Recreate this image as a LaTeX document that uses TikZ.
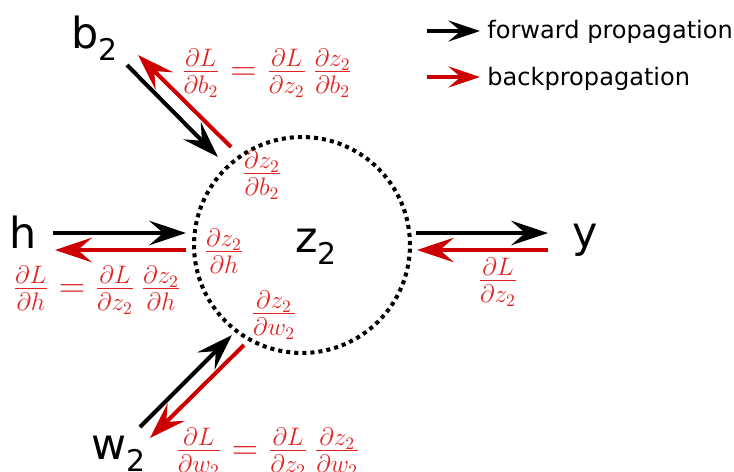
\documentclass[tikz,border=0pt]{standalone}
\usepackage{fontspec}
\usepackage{tikz}
\usepackage{xcolor}
\newfontfamily\lblfont{DejaVu Sans}
\definecolor{vizBwd}{HTML}{CC0000}
\definecolor{vizGrad}{HTML}{E02424}
\usetikzlibrary{arrows.meta}
\newcommand{\lblsub}[1]{{\fontsize{17}{17}\selectfont\raisebox{-7pt}{#1}}}

\tikzset{
  fwdarrow/.style={draw=black, line width=2.3pt, -{Stealth[length=21pt,width=14pt,inset=8pt]}},
  bwdarrow/.style={fwdarrow, draw=vizBwd},
  legarrow/.style={-{Stealth[length=18pt,width=12pt,inset=7pt]}},
  varlabel/.style={font=\lblfont\fontsize{24.4}{24}\selectfont, inner sep=0pt, anchor=base west},
  gradlabel/.style={text=vizGrad, font=\fontsize{20}{20}\selectfont, inner sep=0pt},
  legendlabel/.style={font=\lblfont\fontsize{13.7}{14}\selectfont, inner sep=0pt, anchor=base west}
}

\begin{document}
\begin{tikzpicture}[x=0.02cm, y=-0.02cm]
  \useasboundingbox (0,0) rectangle (734,471);

  \node[circle, draw=black, line width=2.3pt, dash pattern=on 2.3pt off 2.3pt,
        minimum size=4.32cm, inner sep=0pt] (zcirc) at (302,245) {};
  \node[varlabel] (zlbl) at (295,252) {z\lblsub{2}};

  \node[varlabel] (b2lbl) at (71,48) {b\lblsub{2}};
  \node[varlabel] (hlbl) at (9,248) {h};
  \node[varlabel] (ylbl) at (572,247) {y};
  \node[varlabel] (w2lbl) at (91,459) {w\lblsub{2}};

  \coordinate (b2fwS) at (127,65);  \coordinate (b2fwE) at (218,157);
  \coordinate (b2bwS) at (231,147); \coordinate (b2bwE) at (138,55);
  \coordinate (hfwS) at (53,233);   \coordinate (hfwE) at (186,233);
  \coordinate (hbwS) at (186,250);  \coordinate (hbwE) at (55,250);
  \coordinate (yfwS) at (416,233);  \coordinate (yfwE) at (548,233);
  \coordinate (ybwS) at (548,250);  \coordinate (ybwE) at (417,250);
  \coordinate (w2fwS) at (140,427); \coordinate (w2fwE) at (232,335);
  \coordinate (w2bwS) at (244,345); \coordinate (w2bwE) at (150,438);

  \draw[fwdarrow] (b2fwS) -- (b2fwE);
  \draw[bwdarrow] (b2bwS) -- (b2bwE);
  \draw[fwdarrow] (hfwS) -- (hfwE);
  \draw[bwdarrow] (hbwS) -- (hbwE);
  \draw[fwdarrow] (yfwS) -- (yfwE);
  \draw[bwdarrow] (ybwS) -- (ybwE);
  \draw[fwdarrow] (w2fwS) -- (w2fwE);
  \draw[bwdarrow] (w2bwS) -- (w2bwE);

  \node[gradlabel] (gb2) at (267,73) {$\frac{\partial L}{\partial b_2} = \frac{\partial L}{\partial z_2}\,\frac{\partial z_2}{\partial b_2}$};
  \node[gradlabel] (lb2) at (262,175) {$\frac{\partial z_2}{\partial b_2}$};
  \node[gradlabel] (lh) at (224,251) {$\frac{\partial z_2}{\partial h}$};
  \node[gradlabel] (gh) at (97,290) {$\frac{\partial L}{\partial h} = \frac{\partial L}{\partial z_2}\,\frac{\partial z_2}{\partial h}$};
  \node[gradlabel] (gy) at (498,282) {$\frac{\partial L}{\partial z_2}$};
  \node[gradlabel] (lw2) at (274,315) {$\frac{\partial z_2}{\partial w_2}$};
  \node[gradlabel] (gw2) at (268,452) {$\frac{\partial L}{\partial w_2} = \frac{\partial L}{\partial z_2}\,\frac{\partial z_2}{\partial w_2}$};

  \coordinate (legfwS) at (427,31); \coordinate (legfwE) at (480,31);
  \coordinate (legbwS) at (427,77); \coordinate (legbwE) at (480,77);
  \draw[fwdarrow, legarrow] (legfwS) -- (legfwE);
  \draw[bwdarrow, legarrow] (legbwS) -- (legbwE);
  \node[legendlabel] (legfw) at (487,38) {forward propagation};
  \node[legendlabel] (legbw) at (487,85) {backpropagation};
\end{tikzpicture}
\end{document}
